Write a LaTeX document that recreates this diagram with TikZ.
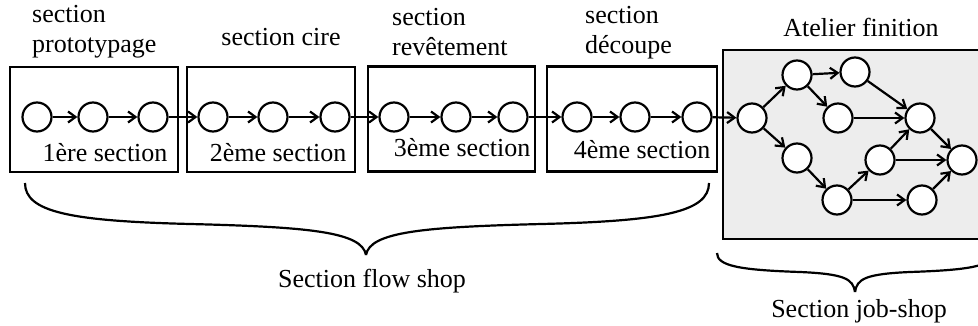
\documentclass[tikz,border=0pt]{standalone}
\usepackage{fontspec}
\setmainfont{Liberation Serif}
\usetikzlibrary{arrows.meta}
\definecolor{bg}{HTML}{EDEDED}
\begin{document}
\begin{tikzpicture}[x=1pt,y=-1pt,
  every node/.style={font=\fontsize{26}{30}\selectfont},
  stn/.style={draw,circle,minimum size=29pt,inner sep=0pt,line width=2.2pt,fill=white},
  secbox/.style={draw,line width=2.5pt,minimum width=#1,minimum height=105pt,inner sep=0pt},
  arr/.style={-{Straight Barb[length=7.5pt,width=11pt,line width=2.2pt]},line width=2.2pt},
  brace/.style={line width=2.2pt},
  lbl/.style={inner sep=0pt,align=left,anchor=west}
]
\useasboundingbox (0,0) rectangle (978,326);
\clip (0,0) rectangle (978,326);
% section boxes
\node[secbox=168pt] (b1) at (94,119.5) {};
\node[secbox=168pt] (b2) at (271,119.5) {};
\node[secbox=167pt] (b3) at (451.5,119) {};
\node[secbox=170pt] (b4) at (632,119) {};
\node[draw,fill=bg,line width=2.5pt,minimum width=267pt,minimum height=189pt,inner sep=0pt] (js) at (856.5,144.5) {};
% top labels
\node[lbl] (t1) at (32,32) {section\\prototypage};
\node[inner sep=0pt] (t2) at (281,37) {section cire};
\node[lbl] (t3) at (392,32) {section\\revêtement};
\node[lbl] (t4) at (585,33) {section\\découpe};
\node[inner sep=0pt] (t5) at (861,27) {Atelier finition};
% bottom labels in boxes
\node[inner sep=0pt] (l1) at (105,153) {1ère section};
\node[inner sep=0pt] (l2) at (278,153) {2ème section};
\node[inner sep=0pt] (l3) at (462,148) {3ème section};
\node[inner sep=0pt] (l4) at (642,150) {4ème section};
% flow nodes
\foreach \n/\x in {f11/37,f12/93,f13/153,f21/213,f22/273,f23/335,f31/394,f32/456,f33/513,f41/577,f42/635,f43/697}
  \node[stn] (\n) at (\x,117) {};
% job shop nodes
\node[stn] (A) at (752,118) {};
\node[stn] (B) at (797,75) {};
\node[stn] (C) at (855,72) {};
\node[stn] (D) at (838,118) {};
\node[stn] (E) at (920,118) {};
\node[stn] (F) at (797,158) {};
\node[stn] (G) at (880,160) {};
\node[stn] (H) at (962,160) {};
\node[stn] (I) at (837,200) {};
\node[stn] (J) at (922,200) {};
% flow arrows
\foreach \a/\b in {f11/f12,f12/f13,f13/f21,f21/f22,f22/f23,f23/f31,f31/f32,f32/f33,f33/f41,f41/f42,f42/f43,f43/A}
  \draw[arr] (\a) -- (\b);
% job shop arrows
\foreach \a/\b in {A/B,A/F,B/C,B/D,C/E,D/E,F/I,I/G,I/J,G/E,G/H,E/H,J/H}
  \draw[arr] (\a) -- (\b);
% braces
\draw[brace] (25,183) .. controls (25,212) and (70,221) .. (190,224) .. controls (310,227) and (362,232) .. (366,255);
\draw[brace] (366,255) .. controls (370,232) and (422,227) .. (542,224) .. controls (662,221) and (709,212) .. (709,183);
\draw[brace] (717,253) .. controls (717,266) and (740,270) .. (800,272) .. controls (845,274) and (853,279) .. (855,292);
\draw[brace] (855,292) .. controls (857,279) and (865,274) .. (910,272) .. controls (970,270) and (993,266) .. (993,253);
\node[inner sep=0pt] (fs) at (372,281) {Section flow shop};
\node[inner sep=0pt] (jsl) at (859,311) {Section job-shop};
\end{tikzpicture}
\end{document}
